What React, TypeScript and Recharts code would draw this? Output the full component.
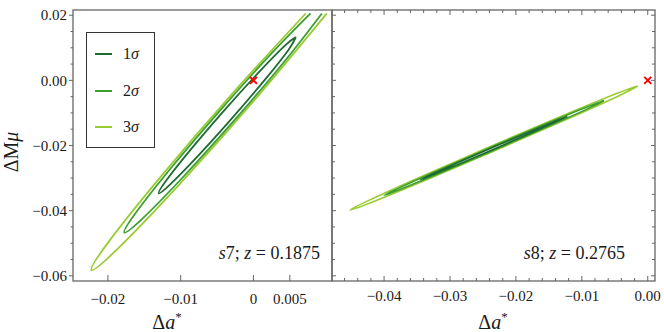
import { ComposedChart, Line, Scatter, XAxis, YAxis, Legend } from 'recharts';

// Δa* vs ΔMμ confidence contours
const s7Sigma1: [number, number][] = [
  [0.00583, 0.01327], [0.00486, 0.0095], [0.00162, 0.00032], [-0.00302, -0.01182],
  [-0.00781, -0.02366], [-0.01147, -0.03202], [-0.01301, -0.03468], [-0.01204, -0.03091],
  [-0.0088, -0.02173], [-0.00416, -0.00959], [0.00063, 0.00224], [0.00429, 0.01061],
  [0.00583, 0.01327],
];
const s7Sigma2: [number, number][] = [
  [0.00941, 0.02055], [0.00426, 0.00579], [-0.0027, -0.01245], [-0.00989, -0.03021],
  [-0.0154, -0.04275], [-0.01774, -0.0467], [-0.01629, -0.04101], [-0.01144, -0.0272],
  [-0.00448, -0.00897], [0.00271, 0.0088], [0.00785, 0.02055],
];
const s7Sigma3: [number, number][] = [
  [0.01009, 0.02055], [0.00072, -0.00454], [-0.00989, -0.03123], [-0.01867, -0.05173],
  [-0.02227, -0.05824], [-0.02001, -0.04989], [-0.01276, -0.02963], [-0.00272, -0.00363],
  [0.00719, 0.02055],
];

const s8Sigma1: [number, number][] = [
  [-0.0122, -0.01107], [-0.01366, -0.01251], [-0.01771, -0.01616], [-0.02327, -0.02105],
  [-0.02884, -0.02587], [-0.03294, -0.02931], [-0.03446, -0.03047], [-0.033, -0.02903],
  [-0.02895, -0.02538], [-0.02339, -0.02049], [-0.01782, -0.01567], [-0.01372, -0.01223],
  [-0.0122, -0.01107],
];
const s8Sigma2: [number, number][] = [
  [-0.00666, -0.00624], [-0.00884, -0.00845], [-0.0149, -0.01397], [-0.02322, -0.02131],
  [-0.03157, -0.0285], [-0.03771, -0.03362], [-0.04, -0.0353], [-0.03782, -0.03309],
  [-0.03176, -0.02757], [-0.02344, -0.02024], [-0.01509, -0.01304], [-0.00895, -0.00792],
  [-0.00666, -0.00624],
];
const s8Sigma3: [number, number][] = [
  [-0.00151, -0.00175], [-0.00435, -0.0047], [-0.01228, -0.01194], [-0.02316, -0.02156],
  [-0.0341, -0.03096], [-0.04214, -0.03764], [-0.04515, -0.03979], [-0.04231, -0.03685],
  [-0.03439, -0.0296], [-0.0235, -0.01998], [-0.01257, -0.01058], [-0.00452, -0.00391],
  [-0.00151, -0.00175],
];

// fiducial point (red cross)
const fiducial: [number, number][] = [[0, 0]];

const sigmaLabels = ['1σ', '2σ', '3σ'];

const yTicksMajor = [-0.06, -0.04, -0.02, 0, 0.02];
const yTickLabels = ['−0.06', '−0.04', '−0.02', '0.00', '0.02'];
const yTicksMinor = [-0.055, -0.05, -0.045, -0.035, -0.03, -0.025, -0.015, -0.01, -0.005, 0.005, 0.01, 0.015];

const s7XTicks = [-0.02, -0.01, 0, 0.005];
const s7XTickLabels = ['−0.02', '−0.01', '0', '0.005'];

const s8XTicksMajor = [-0.04, -0.03, -0.02, -0.01, 0];
const s8XTickLabels = ['−0.04', '−0.03', '−0.02', '−0.01', '0.00'];
const s8XTicksMinor = [
  -0.046, -0.044, -0.042, -0.038, -0.036, -0.034, -0.032, -0.028, -0.026, -0.024,
  -0.022, -0.018, -0.016, -0.014, -0.012, -0.008, -0.006, -0.004, -0.002,
];

const FRAME = '#666666';
const FONT = "'Liberation Serif', 'Times New Roman', serif";
const TEXT = '#1a1a1a';
const COLORS = ['#1d6b30', '#3c9f2e', '#99cc33'];

const toPoints = (pts: [number, number][]) => pts.map(([x, y]) => ({ x, y }));
const sorted = (a: number[]) => [...a].sort((p, q) => p - q);

const indexOf = (v: number, list: number[]) => list.findIndex((t) => Math.abs(t - v) < 1e-9);

type Side = 'left' | 'right' | 'top' | 'bottom';

// tick mark (+ optional label) drawn from the frame line
const frameTick =
  (side: Side, inward: boolean, major: number[], labels: string[] | null, majorLen: number, minorLen: number, gap = 0) =>
  (props: any) => {
    const { x, y, payload } = props;
    const i = indexOf(payload.value, major);
    const len = i >= 0 ? majorLen : minorLen;
    const dir = { left: [1, 0], right: [-1, 0], top: [0, 1], bottom: [0, -1] }[side];
    const s = inward ? 1 : -1;
    const label = labels && i >= 0 ? labels[i] : null;
    return (
      <g>
        {len > 0 && (
          <line x1={x} y1={y} x2={x + dir[0] * len * s} y2={y + dir[1] * len * s} stroke={FRAME} strokeWidth={1} />
        )}
        {label && side === 'left' && (
          <text x={x - gap} y={y} dy="0.35em" textAnchor="end" style={{ fontFamily: FONT }} fontSize={15} fill={TEXT}>
            {label}
          </text>
        )}
        {label && side === 'bottom' && (
          <text x={x} y={y + gap} textAnchor="middle" style={{ fontFamily: FONT }} fontSize={15} fill={TEXT}>
            {label}
          </text>
        )}
      </g>
    );
  };

const Cross = (props: any) => {
  const { cx, cy } = props;
  const r = 3.5;
  return (
    <g stroke="#ff0000" strokeWidth={2}>
      <line x1={cx - r} y1={cy - r} x2={cx + r} y2={cy + r} />
      <line x1={cx - r} y1={cy + r} x2={cx + r} y2={cy - r} />
    </g>
  );
};

const SigmaLegend = () => (
  <div
    style={{
      width: 69,
      height: 116,
      boxSizing: 'border-box',
      border: '1px solid #333',
      background: '#fff',
      position: 'relative',
    }}
  >
    {sigmaLabels.map((s, i) => (
      <svg key={s} width={60} height={20} style={{ position: 'absolute', left: 8, top: 11 + i * 36.5 }}>
        <line x1={0} x2={17} y1={10} y2={10} stroke={COLORS[i]} strokeWidth={2} />
        <text x={28} y={15} style={{ fontFamily: FONT }} fontSize={16} fill={TEXT}>
          {s[0]}
          <tspan fontStyle="italic">{s.slice(1)}</tspan>
        </text>
      </svg>
    ))}
  </div>
);

const allY = sorted([...yTicksMajor, ...yTicksMinor]);
const s8XAll = sorted([...s8XTicksMajor, ...s8XTicksMinor]);
const yDomain: [number, number] = [-0.0616, 0.0216];
const s7XDomain: [number, number] = [-0.0248, 0.0108];
const s8XDomain: [number, number] = [-0.0479, 0.0011];

const contours = (sets: [number, number][][], width: number) =>
  [2, 1, 0].map((k) => (
    <Line
      key={k}
      data={toPoints(sets[k])}
      dataKey="y"
      type="natural"
      stroke={COLORS[k]}
      strokeWidth={width}
      dot={false}
      activeDot={false}
      isAnimationActive={false}
    />
  ));

export default function App() {
  return (
    <div style={{ position: 'absolute', left: 0, top: 0, width: 664, height: 332, background: '#fff' }}>
      <div style={{ position: 'absolute', left: 0, top: 0 }}>
        <ComposedChart width={340} height={332} margin={{ top: 10, right: 8, bottom: 0, left: 0 }}>
          <XAxis
            type="number"
            dataKey="x"
            domain={s7XDomain}
            allowDataOverflow
            ticks={s7XTicks}
            interval={0}
            height={51}
            tickSize={0}
            tickMargin={0}
            tickLine={false}
            axisLine={false}
            tick={frameTick('bottom', true, s7XTicks, s7XTickLabels, 6, 0, 23)}
          />
          <YAxis
            type="number"
            dataKey="y"
            domain={yDomain}
            allowDataOverflow
            ticks={allY}
            interval={0}
            width={73}
            tickSize={0}
            tickMargin={0}
            tickLine={false}
            axisLine={false}
            tick={frameTick('left', false, yTicksMajor, yTickLabels, 4, 2.5, 6)}
          />
          {contours([s7Sigma1, s7Sigma2, s7Sigma3], 1.8)}
          <Scatter data={toPoints(fiducial)} shape={Cross} isAnimationActive={false} />
          <Legend
            layout="vertical"
            align="center"
            verticalAlign="middle"
            wrapperStyle={{ left: 86, top: 32, width: 69, height: 116 }}
            content={() => <SigmaLegend />}
          />
        </ComposedChart>
      </div>

      <div style={{ position: 'absolute', left: 331, top: 0 }}>
        <ComposedChart width={332} height={332} margin={{ top: 9, right: 7, bottom: 0, left: 0 }}>
          <XAxis
            type="number"
            dataKey="x"
            domain={s8XDomain}
            allowDataOverflow
            ticks={s8XAll}
            interval={0}
            height={51}
            tickSize={0}
            tickMargin={0}
            tickLine={false}
            axisLine={false}
            tick={frameTick('bottom', true, s8XTicksMajor, s8XTickLabels, 5, 3, 20)}
          />
          <XAxis
            xAxisId="top"
            orientation="top"
            type="number"
            dataKey="x"
            domain={s8XDomain}
            allowDataOverflow
            ticks={s8XAll}
            interval={0}
            height={1}
            tickSize={0}
            tickMargin={0}
            tickLine={false}
            axisLine={false}
            tick={frameTick('top', true, s8XTicksMajor, null, 5, 3)}
          />
          <YAxis
            type="number"
            dataKey="y"
            domain={yDomain}
            allowDataOverflow
            ticks={allY}
            interval={0}
            width={1}
            tickSize={0}
            tickMargin={0}
            tickLine={false}
            axisLine={false}
            tick={frameTick('left', true, yTicksMajor, null, 4, 3)}
          />
          <YAxis
            yAxisId="right"
            orientation="right"
            type="number"
            domain={yDomain}
            allowDataOverflow
            ticks={allY}
            interval={0}
            width={1}
            tickSize={0}
            tickMargin={0}
            tickLine={false}
            axisLine={false}
            tick={frameTick('right', true, yTicksMajor, null, 4, 3)}
          />
          {contours([s8Sigma1, s8Sigma2, s8Sigma3], 1.6)}
          <Scatter data={toPoints(fiducial)} shape={Cross} isAnimationActive={false} />
        </ComposedChart>
      </div>

      <svg width={664} height={332} style={{ position: 'absolute', left: 0, top: 0, pointerEvents: 'none' }}>
        <g fill="none" stroke={FRAME} strokeWidth={1.3}>
          <rect x={73} y={10} width={259} height={271} />
          <rect x={332} y={10} width={323} height={271} />
        </g>
        <g style={{ fontFamily: FONT }} fill={TEXT}>
          <text x={18} y={152} fontSize={20} textAnchor="middle" transform="rotate(-90, 18, 152)">
            ΔM<tspan fontStyle="italic">μ</tspan>
          </text>
          <text x={167} y={329} fontSize={20} textAnchor="middle">
            Δ<tspan fontStyle="italic">a</tspan>
            <tspan dy={-8} fontSize={13}>*</tspan>
          </text>
          <text x={493} y={329} fontSize={20} textAnchor="middle">
            Δ<tspan fontStyle="italic">a</tspan>
            <tspan dy={-8} fontSize={13}>*</tspan>
          </text>
          <text x={320} y={259} fontSize={18} textAnchor="end">
            <tspan fontStyle="italic">s</tspan>7;{' '}
            <tspan fontStyle="italic">z</tspan> = 0.1875
          </text>
          <text x={625} y={259} fontSize={18} textAnchor="end">
            <tspan fontStyle="italic">s</tspan>8;{' '}
            <tspan fontStyle="italic">z</tspan> = 0.2765
          </text>
        </g>
      </svg>
    </div>
  );
}
